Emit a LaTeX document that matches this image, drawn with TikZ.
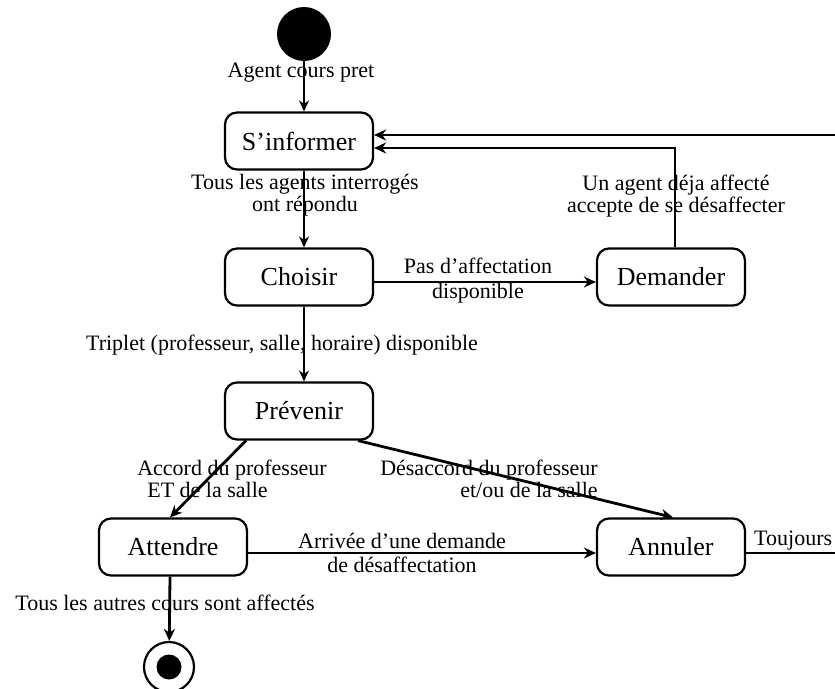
\documentclass[tikz,border=0pt]{standalone}
\usepackage{fontspec}
\setmainfont{Liberation Serif}
\usetikzlibrary{arrows.meta}

\begin{document}
\begin{tikzpicture}[x=1pt,y=-1pt,
    statebox/.style={draw,line width=2.2pt,rounded corners=12pt,minimum width=148pt,minimum height=57pt,inner sep=0pt,font=\fontsize{26}{28}\selectfont},
    lbl/.style={inner sep=0pt,font=\fontsize{22}{22}\selectfont,align=center},
    thinflow/.style={line width=1.3pt,-{Stealth[length=11pt,width=10pt]}},
    thickflow/.style={line width=2.8pt,-{Stealth[length=12pt,width=11pt]}}]
            \useasboundingbox (0,0) rectangle (835,688);
            \clip (0,0) rectangle (835,688);
            % etats
            \node[circle,fill,minimum size=54pt,inner sep=0pt] (init) at (304,34) {};
            \node[statebox] (inf) at (299,141) {S'informer};
            \node[statebox] (cho) at (299,277) {Choisir};
            \node[statebox] (dem) at (671,277) {Demander};
            \node[statebox] (pre) at (299,411) {Prévenir};
            \node[statebox] (att) at (173,547) {Attendre};
            \node[statebox] (ann) at (671,547) {Annuler};
            \node[circle,draw,line width=2.2pt,minimum size=50pt,inner sep=0pt] (fin) at (169,667) {};
            \node[circle,fill,minimum size=25pt,inner sep=0pt] (finin) at (fin) {};
            \coordinate (rimtop) at (850,135);
            \coordinate (rimbot) at (850,553);
            % transitions
            \draw[thinflow] (init) -- (init |- inf.north);
            \draw[thinflow] (inf.south -| init) -- (cho.north -| init);
            \draw[thinflow] (cho.south -| init) -- (pre.north -| init);
            \draw[thickflow] ([yshift=-5pt]cho.east) -- ([yshift=-5pt]dem.west);
            \draw[thickflow] ([xshift=4pt]dem.north) |- ([yshift=-7pt]inf.east);
            \draw[thickflow] ([yshift=-6pt]ann.east) -- (rimbot) -- (rimtop) -- ([yshift=6pt]inf.east);
            \draw[thickflow] ([xshift=-53pt]pre.south) -- ([xshift=-3pt]att.north);
            \draw[thickflow] ([xshift=59pt]pre.south) -- ([xshift=2pt]ann.north);
            \draw[thickflow] ([yshift=-6pt]att.east) -- ([yshift=-6pt]ann.west);
            \draw[thickflow] ([xshift=-3pt]att.south) -- (fin);
            % etiquettes
            \node[lbl] (l1) at (301,73) {Agent cours pret};
            \node[lbl] (l2) at (305,195) {Tous les agents interrogés\\ont répondu};
            \node[lbl,font=\fontsize{22}{25}\selectfont] (l3) at (478,281) {Pas d'affectation\\disponible};
            \node[lbl] (l4) at (676,196) {Un agent déja affecté\\accepte de se désaffecter};
            \node[lbl] (l5) at (282,345) {Triplet (professeur, salle, horaire) disponible};
            \node[lbl,align=left] (l6) at (232,479) {Accord du professeur\\\hspace*{10pt}ET de la salle};
            \node[lbl,align=right] (l7) at (489,479) {Désaccord du professeur\\et/ou de la salle};
            \node[lbl,font=\fontsize{22}{24}\selectfont] (l8) at (402,553) {Arrivée d'une demande\\de désaffectation};
            \node[lbl,anchor=west] (l9) at (754,541) {Toujours};
            \node[lbl] (l10) at (165,603) {Tous les autres cours sont affectés};
        \end{tikzpicture}
\end{document}
